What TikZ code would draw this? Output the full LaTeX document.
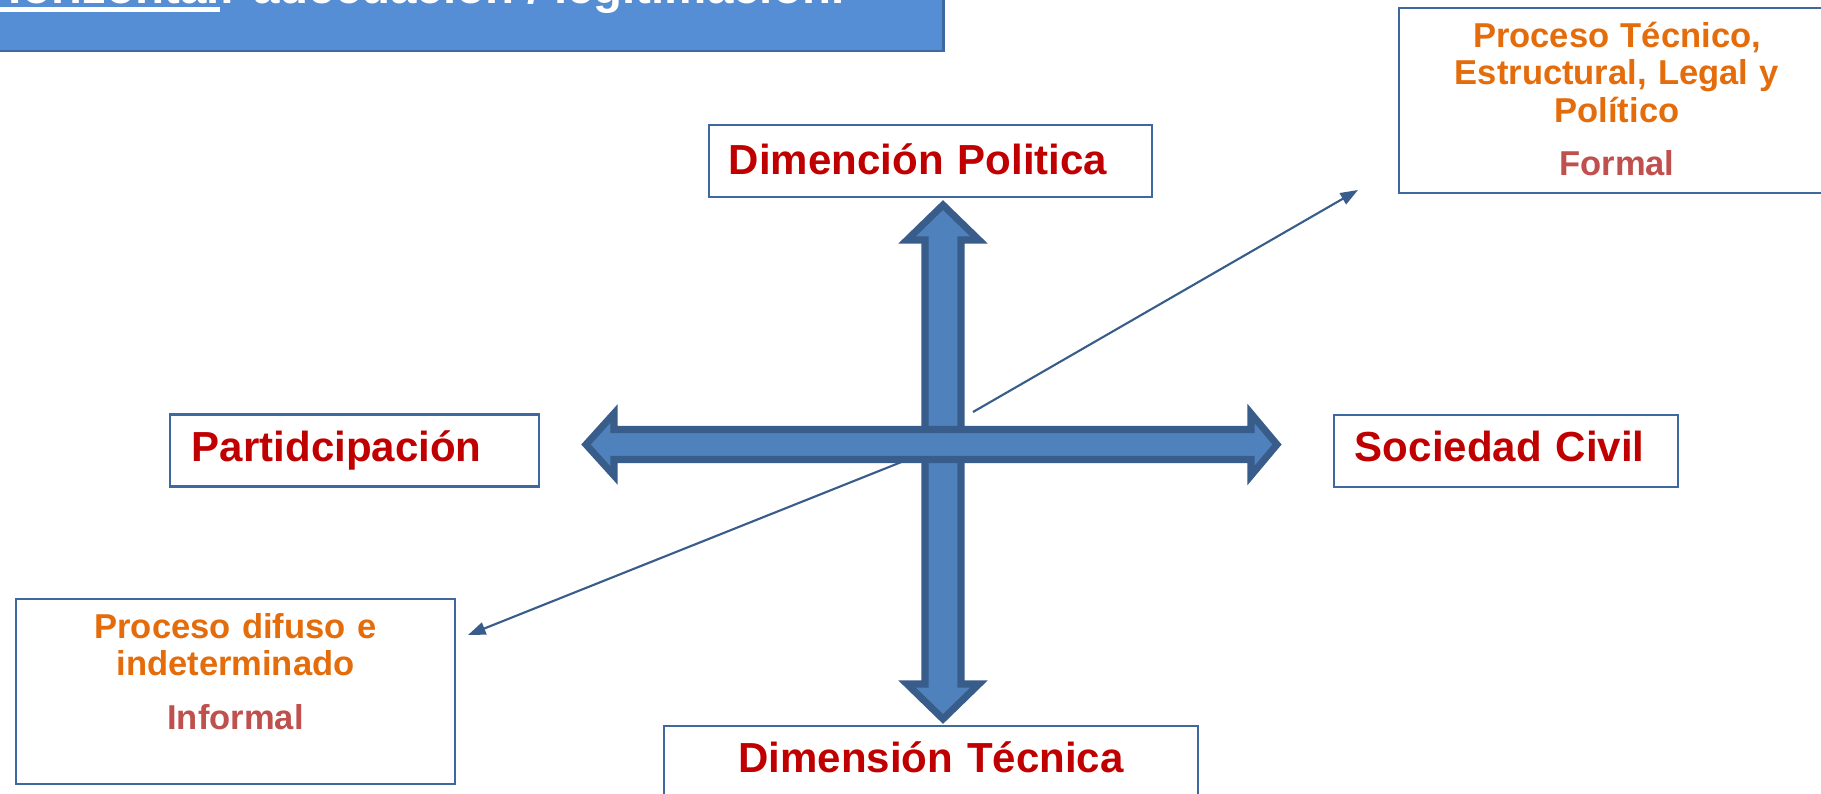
\documentclass[tikz,border=0pt]{standalone}
\usepackage{fontspec}
\setmainfont{Liberation Sans}
\usetikzlibrary{arrows.meta}
\definecolor{redtxt}{HTML}{C00000}
\definecolor{orangetxt}{HTML}{E46C0A}
\definecolor{formaltxt}{HTML}{C0504D}
\definecolor{arrowfill}{HTML}{4F81BD}
\definecolor{arrowline}{HTML}{385D8A}
\definecolor{titlefill}{HTML}{558ED5}
\definecolor{titleline}{HTML}{3E6AA0}
\definecolor{boxline}{HTML}{4068A0}
\definecolor{connline}{HTML}{385D8A}
\newcommand\myThickUl[1]{\setbox0=\hbox{#1}\rlap{\rule[-2.28pt]{\wd0}{1.43pt}}\box0}
\begin{document}
\begin{tikzpicture}[x=0.01cm,y=-0.01cm,
  lbl/.style={draw=boxline, line width=0.6pt, fill=white,
    font=\fontsize{11.95}{14}\selectfont\bfseries, text=redtxt,
    text height=0.315cm, text depth=0.105cm, minimum height=0.72cm, inner ysep=0pt},
  info/.style={draw=boxline, line width=0.6pt, fill=white,
    font={\fontsize{9.82}{10.53}\selectfont\bfseries\lineskiplimit=-20pt\lineskip=0pt},
    text=orangetxt, align=center, inner ysep=0pt, minimum height=1.85cm},
  bigarrow/.style={fill=arrowfill, draw=arrowline, line width=2pt, line join=miter, miter limit=10},
  conn/.style={draw=connline, line width=0.6pt, -{Triangle[length=5pt,width=3.6pt]}}
]
\useasboundingbox (0,0) rectangle (1821,794);
\fill[white] (0,0) rectangle (1821,794);
\begin{scope}
\clip (0,0) rectangle (1821,794);

% title box (cut off at the top)
\node[draw=titleline, line width=0.8pt, fill=titlefill, minimum width=9.48cm, minimum height=1.18cm, inner sep=0pt] (title) at (469,-8) {};
\node[font=\fontsize{13.5}{16}\selectfont\bfseries, text=white, anchor=base east, inner sep=0pt] (titletext) at (845,4)
  {\myThickUl{Horizontal}: adecuación / legitimación.};

% label boxes
\node[lbl, minimum width=4.43cm, inner xsep=0.20cm, text width=4.03cm, align=left, text depth=0.055cm] (polit) at (930.5,161) {Dimención Politica};
\node[lbl, minimum width=3.69cm, inner xsep=0.22cm, text width=3.25cm, align=left] (partic) at (354.5,450.5) {Partidcipación};
\node[lbl, minimum width=3.44cm, inner xsep=0.21cm, text width=3.02cm, align=left] (soc) at (1506,451) {Sociedad Civil};
\node[lbl, minimum width=5.34cm, inner xsep=0.20cm, text width=4.94cm, align=center] (tecn) at (931,762) {Dimensión Técnica};

% info boxes
\node[info, minimum width=4.36cm, inner xsep=0.18cm, text width=4.0cm] (formal) at (1617,100.5)
  {\rule{0pt}{0.36cm}Proceso Técnico,\\ Estructural, Legal y\\ Político\\[0.16cm] \textcolor{formaltxt}{Formal}\rule[-0.14cm]{0pt}{0.14cm}};
\node[info, minimum width=4.39cm, inner xsep=0.195cm, text width=4.0cm] (informal) at (235.5,691.5)
  {\rule{0pt}{0.36cm}Proceso difuso e\\ indeterminado\\[0.16cm] \textcolor{formaltxt}{Informal}\rule[-0.51cm]{0pt}{0.51cm}};

% connectors
\coordinate (c1s) at (973,412);
\coordinate (c1e) at (1358,190);
\coordinate (c2s) at (904,461);
\coordinate (c2e) at (468,635);
\draw[conn] (c1s) -- (c1e);
\draw[conn] (c2s) -- (c2e);

% vertical double arrow
\draw[bigarrow] (943,205) -- (979,240) -- (961,240) -- (961,684) -- (979,684) -- (943,719)
  -- (907,684) -- (925,684) -- (925,240) -- (907,240) -- cycle;
% horizontal double arrow (on top)
\draw[bigarrow] (586,444.5) -- (614,413.5) -- (614,429.5) -- (1251,429.5) -- (1251,413.5) -- (1277,444.5)
  -- (1251,475.5) -- (1251,459.5) -- (614,459.5) -- (614,475.5) -- cycle;
\end{scope}
\end{tikzpicture}
\end{document}
